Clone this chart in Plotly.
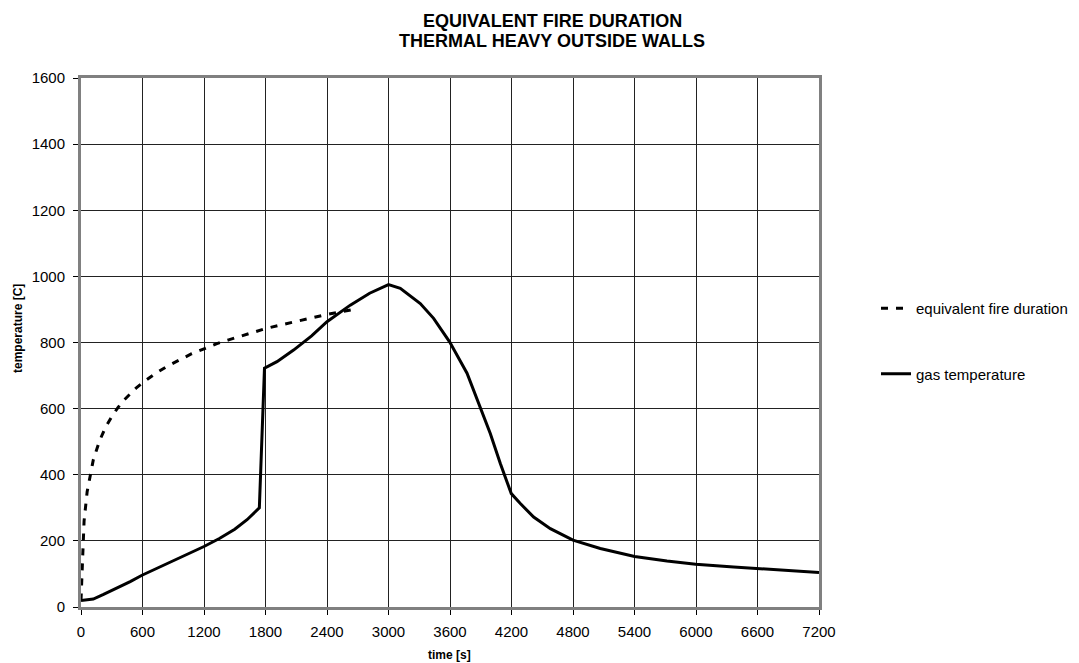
import plotly.graph_objects as go

# Equivalent fire duration (dashed)
equiv_t = [0, 30, 60, 120, 180, 240, 300, 360, 420, 480, 540, 600, 720, 840, 960, 1080,
           1200, 1320, 1440, 1560, 1680, 1800, 1920, 2040, 2160, 2280, 2400, 2520, 2640]
equiv_T = [20, 260, 349, 445, 502, 544, 576, 603, 626, 645, 663, 678, 705, 728, 748, 766,
           781, 796, 808, 820, 831, 842, 851, 860, 869, 877, 885, 892, 899]

# Gas temperature (solid)
gas_t = [0, 60, 120, 220, 360, 480, 595, 750, 904, 1050, 1200, 1350, 1500, 1620, 1740,
         1790, 1912, 2074, 2250, 2400, 2627, 2816, 2930, 3000, 3115, 3310, 3440, 3596,
         3766, 3896, 3993, 4091, 4198, 4286, 4416, 4579, 4800, 5066, 5401, 5717, 5997,
         6367, 6602, 7200]
gas_T = [20, 21, 24, 38, 58, 77, 96, 118, 141, 161, 183, 207, 235, 264, 300,
         722, 742, 777, 820, 863, 913, 949, 966, 975, 964, 918, 873, 802,
         707, 605, 525, 434, 343, 313, 272, 237, 202, 177, 153, 139, 129,
         121, 116, 104]

x_ticks = [0, 600, 1200, 1800, 2400, 3000, 3600, 4200, 4800, 5400, 6000, 6600, 7200]
y_ticks = [0, 200, 400, 600, 800, 1000, 1200, 1400, 1600]

FONT = "Liberation Sans, Arial, sans-serif"
PLOT_LEFT, PLOT_RIGHT = 81, 819
PLOT_TOP, PLOT_BOTTOM = 78, 607
PW = PLOT_RIGHT - PLOT_LEFT
PH = PLOT_BOTTOM - PLOT_TOP


def px(pixel_x):
    return (pixel_x - PLOT_LEFT) / PW


def py(pixel_y):
    return (PLOT_BOTTOM - pixel_y) / PH


fig = go.Figure()
fig.add_trace(go.Scatter(x=equiv_t, y=equiv_T, mode="lines", name="equivalent fire duration",
                         legendgroup="a",
                         line=dict(color="black", width=3, dash="7px,8px")))
fig.add_trace(go.Scatter(x=gas_t, y=gas_T, mode="lines", name="gas temperature",
                         legendgroup="b",
                         line=dict(color="black", width=3)))

fig.update_layout(
    width=1079, height=663,
    paper_bgcolor="white", plot_bgcolor="white",
    margin=dict(l=PLOT_LEFT, r=1079 - PLOT_RIGHT, t=PLOT_TOP, b=663 - PLOT_BOTTOM,
                autoexpand=False),
    font=dict(family=FONT, size=15, color="black"),
    legend=dict(x=px(876), xanchor="left", y=py(341), yanchor="middle",
                tracegroupgap=43, font=dict(family=FONT, size=15, color="black"),
                bgcolor="rgba(0,0,0,0)", borderwidth=0),
    showlegend=True,
)

# Title lines and axis titles as text annotations
fig.add_annotation(text="<b>EQUIVALENT FIRE DURATION</b>", xref="paper", yref="paper",
                   x=px(552), y=py(21.5), xanchor="center", yanchor="middle",
                   showarrow=False, font=dict(family=FONT, size=18, color="black"))
fig.add_annotation(text="<b>THERMAL HEAVY OUTSIDE WALLS</b>", xref="paper", yref="paper",
                   x=px(552), y=py(40.5), xanchor="center", yanchor="middle",
                   showarrow=False, font=dict(family=FONT, size=18, color="black"))
fig.add_annotation(text="<b>time [s]</b>", xref="paper", yref="paper",
                   x=px(449), y=py(655), xanchor="center", yanchor="middle",
                   showarrow=False, font=dict(family=FONT, size=12, color="black"))
fig.add_annotation(text="<b>temperature [C]</b>", xref="paper", yref="paper",
                   x=px(18), y=py(328), xanchor="center", yanchor="middle",
                   textangle=-90,
                   showarrow=False, font=dict(family=FONT, size=12, color="black"))

fig.update_xaxes(range=[0, 7200], tickvals=x_ticks, ticktext=[str(v) for v in x_ticks],
                 showgrid=True, gridcolor="#222222", gridwidth=1,
                 showline=True, linecolor="#808080", linewidth=3, mirror=True,
                 ticks="outside", ticklen=5, tickcolor="black",
                 zeroline=False, ticklabelstandoff=4,
                 tickfont=dict(family=FONT, size=15))
fig.update_yaxes(range=[0, 1600], tickvals=y_ticks, ticktext=[str(v) for v in y_ticks],
                 showgrid=True, gridcolor="#222222", gridwidth=1,
                 showline=True, linecolor="#808080", linewidth=3, mirror=True,
                 ticks="outside", ticklen=5, tickcolor="black",
                 zeroline=False, ticklabelstandoff=5,
                 tickfont=dict(family=FONT, size=15))

fig.write_html("out.html")
